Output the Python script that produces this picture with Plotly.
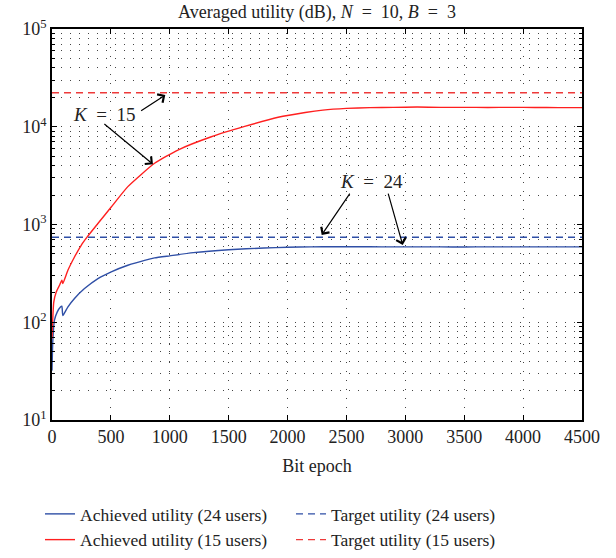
import plotly.graph_objects as go
import numpy as np

# ---- data ----
epoch_24 = [0, 7, 21, 44, 72, 84, 92, 134, 191, 276, 390, 503, 644, 786, 871, 1000, 1200, 1500,
            1800, 2000, 2200, 2400, 2600, 2800, 3000, 3200, 3400, 3600, 3800, 4000, 4200, 4400, 4500]
achieved_24 = [32, 65, 105, 127, 143, 146, 117, 143, 175, 221, 280, 328, 383, 430, 455, 478, 515, 552,
               575, 585, 590, 592, 592, 591, 590, 591, 589, 590, 590, 591, 590, 590, 590]

epoch_15 = [0, 15, 36, 64, 84, 92, 135, 191, 248, 299, 400, 503, 644, 871, 1069, 1353, 1636,
            1920, 2150, 2300, 2500, 2700, 2900, 3100, 3300, 3500, 3700, 3900, 4100, 4300, 4500]
achieved_15 = [68, 161, 204, 239, 269, 249, 340, 465, 613, 746, 1060, 1510, 2440, 4230, 5780, 7900, 10070,
               12500, 14000, 14800, 15400, 15700, 15800, 15900, 15800, 15800, 15750, 15800, 15750, 15700, 15700]

target_24 = 740
target_15 = 22300
x_range = [0, 4500]
x_ticks = [0, 500, 1000, 1500, 2000, 2500, 3000, 3500, 4000, 4500]
y_tickvals = [10, 100, 1000, 10000, 100000]
y_ticktext = ["10<sup>1</sup>", "10<sup>2</sup>", "10<sup>3</sup>", "10<sup>4</sup>", "10<sup>5</sup>"]
y_minor = [m * d for d in [10, 100, 1000, 10000] for m in range(2, 10)]

BLUE = "#2f4fa6"
RED = "#ff1f1f"
FONT = "Liberation Serif"
EQ = "\u2002=\u2002"
W, H = 616, 558

fig = go.Figure()
fig.add_trace(go.Scatter(x=epoch_24, y=achieved_24, mode="lines", line=dict(color=BLUE, width=1.4, shape="spline", smoothing=0.5),
                         name="Achieved utility (24 users)"))
fig.add_trace(go.Scatter(x=x_range, y=[target_24, target_24], mode="lines", line=dict(color=BLUE, width=1.4, dash="7px,5px"),
                         name="Target utility (24 users)"))
fig.add_trace(go.Scatter(x=epoch_15, y=achieved_15, mode="lines", line=dict(color=RED, width=1.4, shape="spline", smoothing=0.5),
                         name="Achieved utility (15 users)"))
fig.add_trace(go.Scatter(x=x_range, y=[target_15, target_15], mode="lines", line=dict(color="#ee3a3a", width=1.4, dash="7px,5px"),
                         name="Target utility (15 users)"))

grid = dict(showgrid=True, gridcolor="#444444", gridwidth=1, griddash="1px,8px")

fig.update_xaxes(range=x_range, tickvals=x_ticks, ticks="inside", ticklen=5, tickcolor="black",
                 showline=True, linecolor="black", linewidth=1.5, mirror="ticks", automargin=True,
                 tickfont=dict(size=18),
                 zeroline=False, title=dict(text="Bit epoch", standoff=13, font=dict(size=18)), **grid)
fig.update_yaxes(type="log", range=[1, 5], tickvals=y_tickvals, ticktext=y_ticktext,
                 ticks="inside", ticklen=5, tickcolor="black", automargin=False,
                 tickfont=dict(size=18),
                 showline=True, linecolor="black", linewidth=1.5, mirror="ticks", zeroline=False,
                 minor=dict(tickvals=y_minor, ticks="inside", ticklen=3, tickcolor="black", showgrid=True,
                            gridcolor="#444444", gridwidth=1, griddash="1px,8px"),
                 **grid)

ann_font = dict(family=FONT, size=19, color="#222")
arrow = dict(text="", showarrow=True, axref="x", ayref="y", arrowhead=4, arrowsize=1.6,
             arrowwidth=1.2, arrowcolor="black")
annotations = [
    dict(x=442, y=np.log10(13200), text="<i>K</i>" + EQ + "15", showarrow=False, font=ann_font),
    dict(x=962, y=4.325, ax=744, ay=4.154, **arrow),
    dict(x=857, y=3.616, ax=432, ay=4.041, **arrow),
    dict(x=2715, y=3.435, text="<i>K</i>" + EQ + "24", showarrow=False, font=ann_font),
    dict(x=2290, y=2.893, ax=2537, ay=3.332, **arrow),
    dict(x=2978, y=2.79, ax=2851, ay=3.332, **arrow),
]

fig.update_layout(
    width=W, height=H,
    margin=dict(l=52, r=34, t=29, b=138),
    paper_bgcolor="white", plot_bgcolor="white",
    font=dict(family=FONT, size=18, color="#222"),
    title=dict(text="Averaged utility (dB), <i>N</i>" + EQ + "10, <i>B</i>" + EQ + "3", x=0.5, xref="paper",
               xanchor="center", y=1 - 12 / H, yref="container", yanchor="middle", font=dict(size=18)),
    showlegend=True,
    legend=dict(orientation="h", x=40 / W, xanchor="left", xref="container",
                y=-23 / H, yref="container", yanchor="bottom",
                entrywidth=206, entrywidthmode="pixels", itemwidth=30, font=dict(size=17.5),
                tracegroupgap=0, bgcolor="rgba(0,0,0,0)"),
    annotations=annotations,
)

fig.write_html("out.html", config={"displayModeBar": False},
               post_script="document.body.style.margin='0';")
